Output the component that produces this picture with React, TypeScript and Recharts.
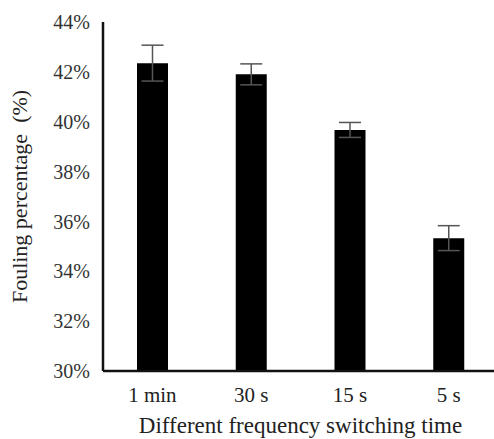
import { BarChart, Bar, XAxis, YAxis, ErrorBar } from 'recharts'

const categories = ['1 min', '30 s', '15 s', '5 s']
const fouling = [42.35, 41.9, 39.67, 35.33]
const errors = [0.72, 0.42, 0.3, 0.5]
const yTicks = [30, 32, 34, 36, 38, 40, 42, 44]

const data = categories.map((name, i) => ({ name, value: fouling[i], err: errors[i] }))

const FONT = "'Liberation Serif', 'DejaVu Serif', serif"

export default function App() {
  return (
    <div style={{ position: 'absolute', left: 0, top: 0, width: 494, height: 439, overflow: 'hidden', background: '#fff', fontFamily: FONT }}>
      <BarChart
        width={498}
        height={439}
        data={data}
        margin={{ top: 22, right: 0, bottom: 0, left: 0 }}
        barCategoryGap={0}
        style={{ fontFamily: FONT }}
      >
        <XAxis
          dataKey="name"
          height={68}
          axisLine={{ stroke: '#111', strokeWidth: 2.5 }}
          tickLine={false}
          tickSize={0}
          tickMargin={16}
          tick={{ fontSize: 21, fill: '#222', style: { fontFamily: FONT } }}
          interval={0}
          label={{
            value: 'Different frequency switching time',
            position: 'insideBottom',
            offset: 6,
            style: { fontFamily: FONT, fontSize: 23, fill: '#222' },
          }}
        />
        <YAxis
          width={103}
          domain={[30, 44]}
          ticks={yTicks}
          allowDataOverflow
          axisLine={{ stroke: '#111', strokeWidth: 2.5 }}
          tickLine={false}
          tickSize={0}
          tickMargin={13}
          tickFormatter={(v: number) => `${v}%`}
          tick={{ fontSize: 20, fill: '#333', style: { fontFamily: FONT } }}
          label={({ viewBox }: any) => {
            const cy = viewBox.y + viewBox.height / 2
            return (
              <text
                x={27}
                y={cy}
                transform={`rotate(-90, 27, ${cy})`}
                textAnchor="middle"
                style={{ fontFamily: FONT, fontSize: 22, fill: '#222' }}
              >
                {'Fouling percentage\u00a0 (%)'}
              </text>
            )
          }}
        />
        <Bar dataKey="value" fill="#000" barSize={31} isAnimationActive={false}>
          <ErrorBar dataKey="err" width={11} stroke="#555" strokeWidth={1.5} direction="y" />
        </Bar>
      </BarChart>
    </div>
  )
}
